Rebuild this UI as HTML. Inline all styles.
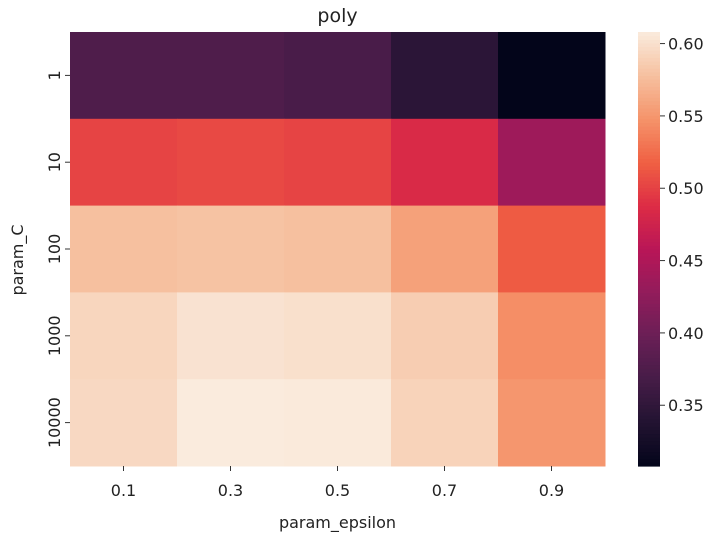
<!DOCTYPE html>
<html><head><meta charset="utf-8">
<style>
body{margin:0;background:#fff;}
svg{display:block;font-family:"DejaVu Sans","Liberation Sans",sans-serif;}
</style></head>
<body>
<svg id="chart" width="728" height="540" viewBox="0 0 728 540">
<g id="cells"></g><g id="axes"></g>
</svg>
<script>
const rowLabels=["1","10","100","1000","10000"];
const colLabels=["0.1","0.3","0.5","0.7","0.9"];
const row1=[0.376,0.376,0.371,0.346,0.308];
const row10=[0.502,0.505,0.502,0.485,0.437];
const row100=[0.578,0.580,0.578,0.557,0.515];
const row1000=[0.593,0.602,0.600,0.587,0.545];
const row10000=[0.595,0.608,0.607,0.591,0.550];
const values=[row1,row10,row100,row1000,row10000];
const cbTicks=[0.35,0.40,0.45,0.50,0.55,0.60];
const vmin=0.308,vmax=0.608;

const stops=["#03051a","#221331","#451c47","#6a1f56","#921c5b","#b91657","#dd2c45","#f06043","#f5936a","#f6c09f","#faebdd"];
function hex(h){return [1,3,5].map(i=>parseInt(h.substr(i,2),16));}
function cmap(v){let t=Math.max(0,Math.min(1,(v-vmin)/(vmax-vmin)))*(stops.length-1);
 let i=Math.min(Math.floor(t),stops.length-2),f=t-i,a=hex(stops[i]),b=hex(stops[i+1]);
 return "rgb("+a.map((x,k)=>Math.round(x+(b[k]-x)*f)).join(",")+")";}
const L=70,R=605,T=32,B=466;
const cw=(R-L)/colLabels.length,rh=(B-T)/rowLabels.length;
const xs=j=>L+j*cw, ys=i=>T+i*rh;
const NS="http://www.w3.org/2000/svg";
function mk(tag,attrs,parent,text){const e=document.createElementNS(NS,tag);for(const k in attrs)e.setAttribute(k,attrs[k]);if(text!=null)e.textContent=text;parent.appendChild(e);return e;}
const cells=document.getElementById("cells"),axes=document.getElementById("axes");
values.forEach((row,i)=>row.forEach((v,j)=>{
 const r=mk("rect",{x:xs(j),y:ys(i),width:cw+0.5,height:rh+0.5,fill:cmap(v)},cells);
 
 
}));
colLabels.forEach((c,j)=>{
 const cx=xs(j)+cw/2;
 mk("line",{x1:cx,x2:cx,y1:B,y2:B+5,stroke:"#333"},axes);
 const t=mk("text",{x:cx,y:B+30,"text-anchor":"middle","font-size":"16",fill:"#222"},axes,c);
 
 
});
rowLabels.forEach((r,i)=>{
 const cy=ys(i)+rh/2;
 mk("line",{x1:L-5,x2:L,y1:cy,y2:cy,stroke:"#333"},axes);
 const t=mk("text",{x:0,y:0,"text-anchor":"middle","font-size":"16",fill:"#222",transform:"translate("+(L-10)+","+cy+") rotate(-90)"},axes,r);
 
 
});
let tt=mk("text",{x:(L+R)/2,y:22,"text-anchor":"middle","font-size":"19",fill:"#222"},axes,"poly");

tt=mk("text",{x:(L+R)/2,y:528,"text-anchor":"middle","font-size":"16",fill:"#222"},axes,"param_epsilon");

tt=mk("text",{x:0,y:0,"text-anchor":"middle","font-size":"16",fill:"#222",transform:"translate(23,260) rotate(-90)"},axes,"param_C");

const cbX=638,cbW=22;
const N=120;
for(let k=0;k<N;k++){
 const v0=vmin+(vmax-vmin)*k/N;
 const y=B-(k+1)*(B-T)/N;
 const r=mk("rect",{x:cbX,y:y,width:cbW,height:(B-T)/N+0.6,fill:cmap(v0+(vmax-vmin)/N/2)},axes);
 
}
const cy=v=>B-(v-vmin)/(vmax-vmin)*(B-T);
cbTicks.forEach(v=>{
 mk("line",{x1:cbX+cbW,x2:cbX+cbW+5,y1:cy(v),y2:cy(v),stroke:"#333"},axes);
 const t=mk("text",{x:cbX+cbW+8,y:cy(v)+6,"font-size":"16",fill:"#222"},axes,v.toFixed(2));
 
});
</script>
</body></html>
